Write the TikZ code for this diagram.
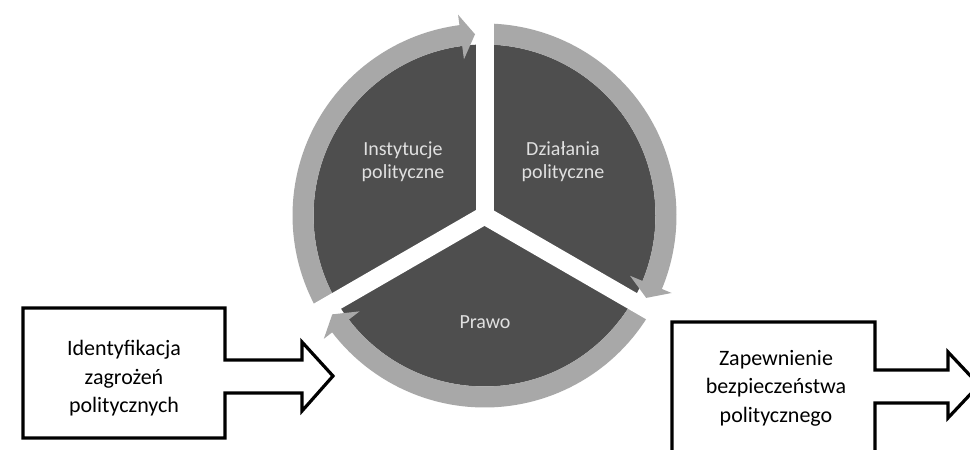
\documentclass[tikz,border=0pt]{standalone}
\usepackage{fontspec}
\setmainfont{Carlito}
\definecolor{segdark}{HTML}{4E4E4E}
\definecolor{ringc}{HTML}{A8A8A8}
\definecolor{labc}{HTML}{E0E0E0}
\begin{document}
\begin{tikzpicture}[x=1pt,y=1pt,
  seglabel/.style={text=labc, align=center, inner sep=0pt, font=\fontsize{20}{23}\selectfont},
  boxtext/.style={text=black, align=center, inner sep=0pt, font=\fontsize{22}{28.5}\selectfont},
  boxline/.style={draw=black, line width=3.2pt, line join=miter, fill=white},
  ringarc/.style={draw=ringc, line width=21pt},
  gapband/.style={draw=white, line width=18pt, line cap=round}]
\useasboundingbox (0,0) rectangle (970,450);
\clip (0,0) rectangle (970,450);
\fill[white] (0,0) rectangle (970,450);
\coordinate (c) at (484.5,234.5);
% dark disc
\fill[segdark] (c) circle[radius=171];
% ring arcs (arrow bodies)
\foreach \r in {0,120,240}{
  \draw[ringarc] ([shift={({210-\r}:181.5)}]c) arc[start angle={210-\r}, end angle={97-\r}, radius=181.5];
}
% white Y gaps
\foreach \a in {90,210,330}{
  \draw[gapband] (c) -- ([shift={(\a:196)}]c);
}
% arrow heads
\foreach \r in {0,120,240}{
  \fill[ringc] ([shift={({97.5-\r}:157.5)}]c) -- ([shift={({97.5-\r}:202.5)}]c) -- ([shift={({93-\r}:181.5)}]c) -- cycle;
}
% segment labels
\node[seglabel] (inst) at (403,288) {Instytucje\\polityczne};
\node[seglabel] (dzial) at (563,288) {Działania\\polityczne};
\node[seglabel] (prawo) at (485,128) {Prawo};
% left box arrow
\draw[boxline] (23,142) -- (225,142) -- (225,90) -- (302,90) -- (302,108) -- (333,74) -- (302,39) -- (302,57) -- (225,57) -- (225,12) -- (23,12) -- cycle;
\node[boxtext] (ident) at (124,71.5) {Identyfikacja\\zagrożeń\\politycznych};
% right box arrow
\draw[boxline] (672,128) -- (875,128) -- (875,80) -- (948,80) -- (948,98) -- (979,65) -- (948,32) -- (948,47) -- (875,47) -- (875,-10) -- (672,-10) -- cycle;
\node[boxtext] (zapew) at (776,62) {Zapewnienie\\bezpieczeństwa\\politycznego};
\end{tikzpicture}
\end{document}
